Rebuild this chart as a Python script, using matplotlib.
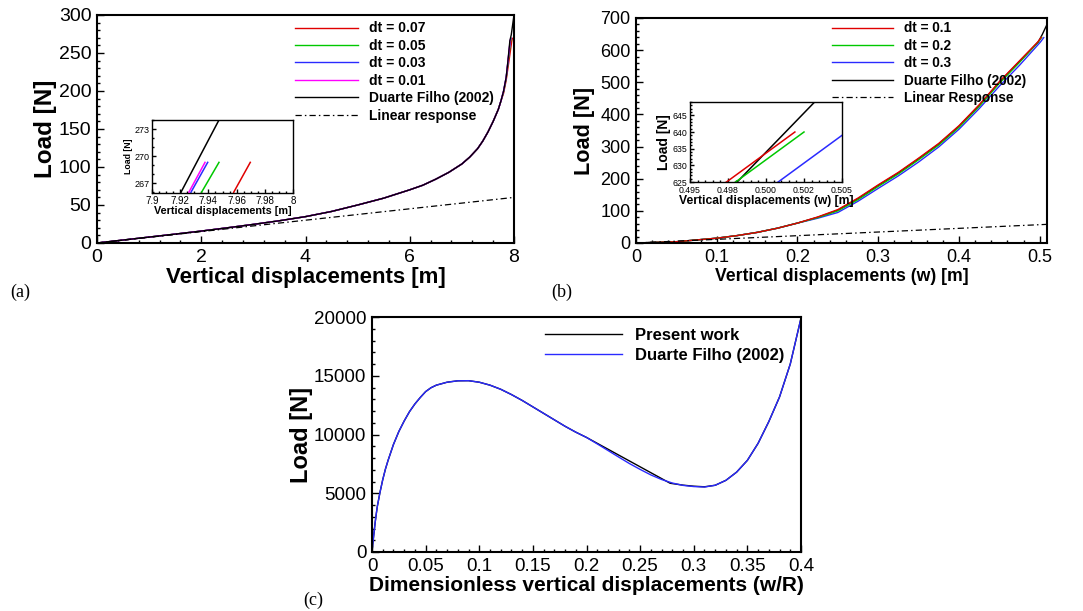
import matplotlib
matplotlib.use('Agg')
import matplotlib.pyplot as plt
from matplotlib.ticker import MultipleLocator, FixedLocator, FixedFormatter

plt.rcParams['font.family'] = ['Liberation Sans', 'DejaVu Sans']

# ---------------- data: panel (a) ----------------
xa_base = [0, 0.5, 1, 1.5, 2, 2.5, 3, 3.5, 4, 4.5, 5, 5.5, 6, 6.25, 6.5, 6.75,
           7, 7.15, 7.3, 7.4, 7.5, 7.6, 7.7, 7.75]
la_base = [0, 3.9, 7.8, 11.7, 15.7, 20, 24.5, 29.3, 34.7, 41.5, 50, 59, 70, 76, 84, 93,
           104, 113, 124, 134, 146, 160, 176, 187]
xa_tail_dt007 = [7.8, 7.85, 7.9, 7.958, 7.9697]
la_tail_dt007 = [197, 214, 238, 266, 269.3]
xa_tail_dt005 = [7.8, 7.85, 7.9, 7.9352, 7.9475]
la_tail_dt005 = [199, 217, 246, 266, 269.3]
xa_tail_dt003 = [7.8, 7.85, 7.88, 7.9277, 7.9395]
la_tail_dt003 = [200, 218, 236, 266, 269.3]
xa_tail_dt001 = [7.8, 7.85, 7.88, 7.9262, 7.9376]
la_tail_dt001 = [200, 218, 237, 266, 269.3]
xa_tail_ref = [7.8, 7.85, 7.88, 7.9206, 7.9475, 8.0]
la_tail_ref = [200, 218, 237, 266, 274, 300]
xa_linear = [0, 8]
la_linear = [0, 60]
labels_a = ['dt = 0.07', 'dt = 0.05', 'dt = 0.03', 'dt = 0.01',
            'Duarte Filho (2002)', 'Linear response']

# ---------------- data: panel (b) ----------------
xb_base = [0, 0.05, 0.1, 0.125, 0.15, 0.175, 0.2]
lb_base = [0, 4, 15, 23, 33, 46, 62]
xb_ref = [0.225, 0.25, 0.275, 0.3, 0.325, 0.35, 0.375, 0.4, 0.425, 0.45, 0.475, 0.4981, 0.5032, 0.509]
lb_ref = [80, 102, 138, 179, 218, 262, 308, 363, 428, 500, 565, 625, 649, 680]
xb_dt01 = [0.225, 0.25, 0.275, 0.3, 0.325, 0.35, 0.375, 0.4, 0.425, 0.45, 0.475, 0.4974, 0.5019]
lb_dt01 = [81, 104, 140, 181, 220, 264, 310, 365, 430, 502, 567, 625, 640]
xb_dt02 = [0.225, 0.25, 0.275, 0.3, 0.325, 0.35, 0.375, 0.4, 0.425, 0.45, 0.475, 0.4980, 0.5025]
lb_dt02 = [79, 100, 135, 176, 215, 259, 305, 360, 425, 497, 562, 625, 640]
xb_dt03 = [0.225, 0.25, 0.275, 0.3, 0.325, 0.35, 0.375, 0.4, 0.425, 0.45, 0.475, 0.5008, 0.505]
lb_dt03 = [77, 95, 130, 170, 209, 252, 299, 354, 418, 488, 553, 625, 639]
xb_linear = [0, 0.509]
lb_linear = [0, 58]
labels_b = ['dt = 0.1', 'dt = 0.2', 'dt = 0.3', 'Duarte Filho (2002)', 'Linear Response']

# ---------------- data: panel (c) ----------------
xc_common = [0, 0.001, 0.002, 0.003, 0.004, 0.005, 0.0075, 0.01, 0.0125, 0.015, 0.02,
             0.025, 0.03, 0.035, 0.04, 0.045, 0.05, 0.055, 0.06, 0.07, 0.08, 0.09,
             0.1, 0.11, 0.12, 0.13, 0.14, 0.15, 0.16, 0.17, 0.18, 0.19, 0.2]
lc_common = [0, 900, 1750, 2550, 3250, 3900, 5100, 6150, 7050, 7800, 9150,
             10250, 11150, 11950, 12600, 13150, 13650, 13980, 14200, 14450, 14570, 14580,
             14450, 14200, 13850, 13400, 12900, 12350, 11800, 11250, 10700, 10200, 9750]
xc_present_mid = [0.278, 0.29, 0.3, 0.31]
lc_present_mid = [5850, 5690, 5600, 5550]
xc_duarte_mid = [0.21, 0.22, 0.23, 0.24, 0.25, 0.26, 0.27, 0.28, 0.29, 0.3, 0.31]
lc_duarte_mid = [9200, 8640, 8080, 7530, 7030, 6560, 6170, 5870, 5670, 5570, 5530]
xc_end = [0.32, 0.33, 0.34, 0.35, 0.36, 0.37, 0.38, 0.39, 0.4]
lc_end = [5680, 6100, 6800, 7800, 9250, 11100, 13200, 16000, 19900]
labels_c = ['Present work', 'Duarte Filho (2002)']

RED, GREEN, BLUE, MAG = '#e00000', '#00c800', '#2a2aff', '#ff00ff'
DASHDOT = (0, (5, 2.5, 1.2, 2.5))

fig = plt.figure(figsize=(10.83, 6.11), dpi=100)


def style(ax, fs, mlen=5, nlen=2.5, lw=1.5, pad=3):
    for s in ax.spines.values():
        s.set_linewidth(lw)
    ax.tick_params(which='both', direction='in', top=False, right=False,
                   labelsize=fs, width=1.0, pad=pad)
    ax.tick_params(which='major', length=mlen)
    ax.tick_params(which='minor', length=nlen)


# ================= panel (a) =================
axA = fig.add_axes([97/1083, 1-243/611, 417/1083, 228/611])
ser_a = [(xa_tail_dt007, la_tail_dt007, RED), (xa_tail_dt005, la_tail_dt005, GREEN),
         (xa_tail_dt003, la_tail_dt003, BLUE), (xa_tail_dt001, la_tail_dt001, MAG),
         (xa_tail_ref, la_tail_ref, 'black')]
for (xt, yt, c), lab in zip(ser_a, labels_a[:5]):
    axA.plot(xa_base + xt, la_base + yt, color=c, lw=1.0, label=lab)
axA.plot(xa_linear, la_linear, color='black', lw=0.9, ls=DASHDOT, label=labels_a[5])
axA.set_xlim(0, 8)
axA.set_ylim(0, 300)
axA.xaxis.set_major_locator(MultipleLocator(2))
axA.xaxis.set_minor_locator(MultipleLocator(0.4))
axA.yaxis.set_major_locator(MultipleLocator(50))
axA.yaxis.set_minor_locator(MultipleLocator(10))
style(axA, 14, pad=4)
axA.set_xlabel('Vertical displacements [m]', fontsize=16, fontweight='bold', labelpad=1)
axA.set_ylabel('Load [N]', fontsize=17.5, fontweight='bold', labelpad=1)
axA.legend(loc='upper left', bbox_to_anchor=(0.475, 0.972), frameon=False,
           prop={'weight': 'bold', 'size': 10}, handlelength=4.5, handletextpad=0.8,
           labelspacing=0.25, borderpad=0, borderaxespad=0)

# inset (a)
inA = fig.add_axes([152/1083, 1-193/611, 141/1083, 73/611])
for (xt, yt, c) in ser_a:
    inA.plot(xa_base + xt, la_base + yt, color=c, lw=1.1)
inA.set_xlim(7.9, 8.0)
inA.set_ylim(265.9, 274)
inA.xaxis.set_major_locator(FixedLocator([7.9, 7.92, 7.94, 7.96, 7.98, 8.0]))
inA.xaxis.set_major_formatter(FixedFormatter(['7.9', '7.92', '7.94', '7.96', '7.98', '8']))
inA.xaxis.set_minor_locator(MultipleLocator(0.005))
inA.yaxis.set_major_locator(FixedLocator([267, 270, 273]))
inA.yaxis.set_minor_locator(MultipleLocator(1))
style(inA, 7, mlen=3, nlen=1.5, lw=1.0, pad=2)
inA.tick_params(axis='y', labelsize=6.5)
inA.set_xlabel('Vertical displacements [m]', fontsize=7.8, fontweight='bold', labelpad=0)
inA.set_ylabel('Load [N]', fontsize=6.3, fontweight='bold', labelpad=1)

# ================= panel (b) =================
axB = fig.add_axes([636/1083, 1-243/611, 411/1083, 225/611])
ser_b = [(xb_ref, lb_ref, 'black', labels_b[3]), (xb_dt03, lb_dt03, BLUE, labels_b[2]),
         (xb_dt02, lb_dt02, GREEN, labels_b[1]), (xb_dt01, lb_dt01, RED, labels_b[0])]
for xt, yt, c, lab in ser_b:
    axB.plot(xb_base + xt, lb_base + yt, color=c, lw=1.0, label=lab)
axB.plot(xb_linear, lb_linear, color='black', lw=0.9, ls=DASHDOT, label=labels_b[4])
axB.set_xlim(0, 0.509)
axB.set_ylim(0, 700)
axB.xaxis.set_major_locator(FixedLocator([0, 0.1, 0.2, 0.3, 0.4, 0.5]))
axB.xaxis.set_major_formatter(FixedFormatter(['0', '0.1', '0.2', '0.3', '0.4', '0.5']))
axB.xaxis.set_minor_locator(MultipleLocator(0.02))
axB.yaxis.set_major_locator(MultipleLocator(100))
axB.yaxis.set_minor_locator(MultipleLocator(20))
style(axB, 13, pad=4)
axB.set_xlabel('Vertical displacements (w) [m]', fontsize=12.7, fontweight='bold', labelpad=2)
axB.set_ylabel('Load [N]', fontsize=15.6, fontweight='bold', labelpad=4)
h, l = axB.get_legend_handles_labels()
hd = dict(zip(l, h))
axB.legend([hd[x] for x in labels_b], labels_b, loc='upper left',
           bbox_to_anchor=(0.477, 0.985), frameon=False,
           prop={'weight': 'bold', 'size': 9.8}, handlelength=4.5, handletextpad=0.8,
           labelspacing=0.25, borderpad=0, borderaxespad=0)

# inset (b)
inB = fig.add_axes([690/1083, 1-182/611, 152/1083, 80/611])
for xt, yt, c, lab in ser_b:
    inB.plot(xb_base + xt, lb_base + yt, color=c, lw=1.1)
inB.set_xlim(0.495, 0.505)
inB.set_ylim(625, 649)
inB.xaxis.set_major_locator(FixedLocator([0.495, 0.4975, 0.5, 0.5025, 0.505]))
inB.xaxis.set_major_formatter(FixedFormatter(['0.495', '0.498', '0.500', '0.502', '0.505']))
inB.xaxis.set_minor_locator(MultipleLocator(0.0005))
inB.yaxis.set_major_locator(MultipleLocator(5))
inB.yaxis.set_minor_locator(MultipleLocator(1))
style(inB, 6.3, mlen=3, nlen=1.5, lw=1.0, pad=2)
inB.tick_params(axis='x', pad=3)
inB.set_xlabel('Vertical displacements (w) [m]', fontsize=8.7, fontweight='bold', labelpad=0)
inB.set_ylabel('Load [N]', fontsize=10, fontweight='bold', labelpad=1)

# ================= panel (c) =================
axC = fig.add_axes([372/1083, 1-552/611, 429/1083, 235/611])
axC.plot(xc_common + xc_present_mid + xc_end, lc_common + lc_present_mid + lc_end,
         color='black', lw=1.0, label=labels_c[0])
axC.plot(xc_common + xc_duarte_mid + xc_end, lc_common + lc_duarte_mid + lc_end,
         color=BLUE, lw=1.0, label=labels_c[1])
axC.set_xlim(0, 0.4)
axC.set_ylim(0, 20000)
axC.xaxis.set_major_locator(FixedLocator([0, 0.05, 0.1, 0.15, 0.2, 0.25, 0.3, 0.35, 0.4]))
axC.xaxis.set_major_formatter(FixedFormatter(['0', '0.05', '0.1', '0.15', '0.2', '0.25', '0.3', '0.35', '0.4']))
axC.xaxis.set_minor_locator(MultipleLocator(0.01))
axC.yaxis.set_major_locator(MultipleLocator(5000))
axC.yaxis.set_minor_locator(MultipleLocator(1000))
style(axC, 13.5, pad=4)
axC.set_xlabel('Dimensionless vertical displacements (w/R)', fontsize=15, fontweight='bold', labelpad=1)
axC.set_ylabel('Load [N]', fontsize=17, fontweight='bold', labelpad=1)
axC.legend(loc='upper left', bbox_to_anchor=(0.403, 0.955), frameon=False,
           prop={'weight': 'bold', 'size': 12}, handlelength=4.6, handletextpad=0.8,
           labelspacing=0.32, borderpad=0, borderaxespad=0)

# panel tags
for txt, x, y in [('(a)', 10, 292), ('(b)', 551, 292), ('(c)', 303, 600)]:
    fig.text(x/1083, 1-y/611, txt, fontsize=13, family='Liberation Serif', va='center', ha='left')

fig.savefig('out.png', dpi=100)
